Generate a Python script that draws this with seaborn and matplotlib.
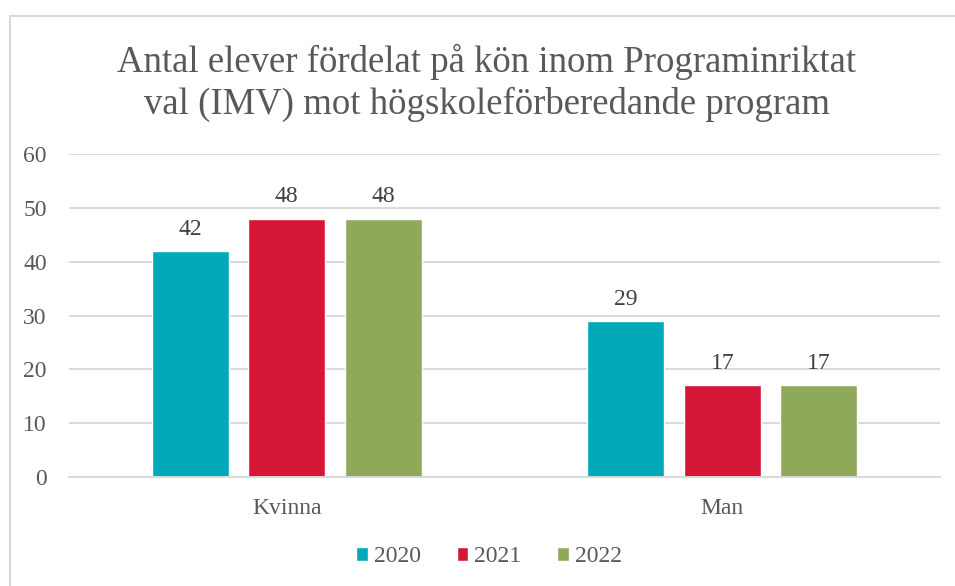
import matplotlib
matplotlib.use("Agg")
import matplotlib.pyplot as plt
import seaborn as sns
import pandas as pd
from matplotlib.patches import Rectangle

categories = ["Kvinna", "Man"]
years = ["2020", "2021", "2022"]
values_2020 = [42, 29]
values_2021 = [48, 17]
values_2022 = [48, 17]
colors = ["#00A8B8", "#D51737", "#8FA95B"]
title = "Antal elever fördelat på kön inom Programinriktat\nval (IMV) mot högskoleförberedande program"

rows = []
for y, vals in zip(years, [values_2020, values_2021, values_2022]):
    for c, v in zip(categories, vals):
        rows.append({"Kön": c, "År": y, "Antal": v})
df = pd.DataFrame(rows)

sns.set_theme(style="white")
plt.rcParams["font.family"] = ["Liberation Serif", "DejaVu Serif"]

FS = 17

fig = plt.figure(figsize=(9.55, 5.86), dpi=100)
ax = fig.add_axes([69/955, 1-477/586, (940-69)/955, (477-154)/586])

sns.barplot(data=df, x="Kön", y="Antal", hue="År", palette=colors,
            width=0.665, gap=0.2, ax=ax, legend=True, saturation=1)

ax.set_ylim(0, 60)
ax.set_xlim(-0.5, 1.5)
ax.set_yticks(range(0, 61, 10))
ax.yaxis.grid(True, color="#D9D9D9", linewidth=1.4)
ax.set_axisbelow(True)
for s in ["top", "right", "left"]:
    ax.spines[s].set_visible(False)
ax.spines["bottom"].set_color("#D9D9D9")
ax.spines["bottom"].set_linewidth(1.4)
ax.tick_params(axis="y", length=0, labelsize=FS, labelcolor="#595959", pad=16)
ax.tick_params(axis="x", length=0, labelsize=FS, labelcolor="#595959", pad=15)
ax.set_xlabel("")
ax.set_ylabel("")

for cont in ax.containers:
    ax.bar_label(cont, fmt="%d", padding=8, fontsize=FS, color="#404040")

leg = ax.legend(loc="center", bbox_to_anchor=(489/955, 1-557/586),
                bbox_transform=fig.transFigure, ncol=3, frameon=False,
                fontsize=FS, handlelength=0.5, handleheight=0.5,
                handletextpad=0.25, columnspacing=1.5)
for t in leg.get_texts():
    t.set_color("#595959")

fig.text(487/955, 1-83/586, title, ha="center", va="center",
         fontsize=26.5, color="#595959", linespacing=1.22)

fig.patches.append(Rectangle((10/955, -0.1), 1.2, 1-16/586+0.1,
                             transform=fig.transFigure, fill=False,
                             edgecolor="#D9D9D9", linewidth=1.5, zorder=0))

fig.savefig("out.png", dpi=100)
